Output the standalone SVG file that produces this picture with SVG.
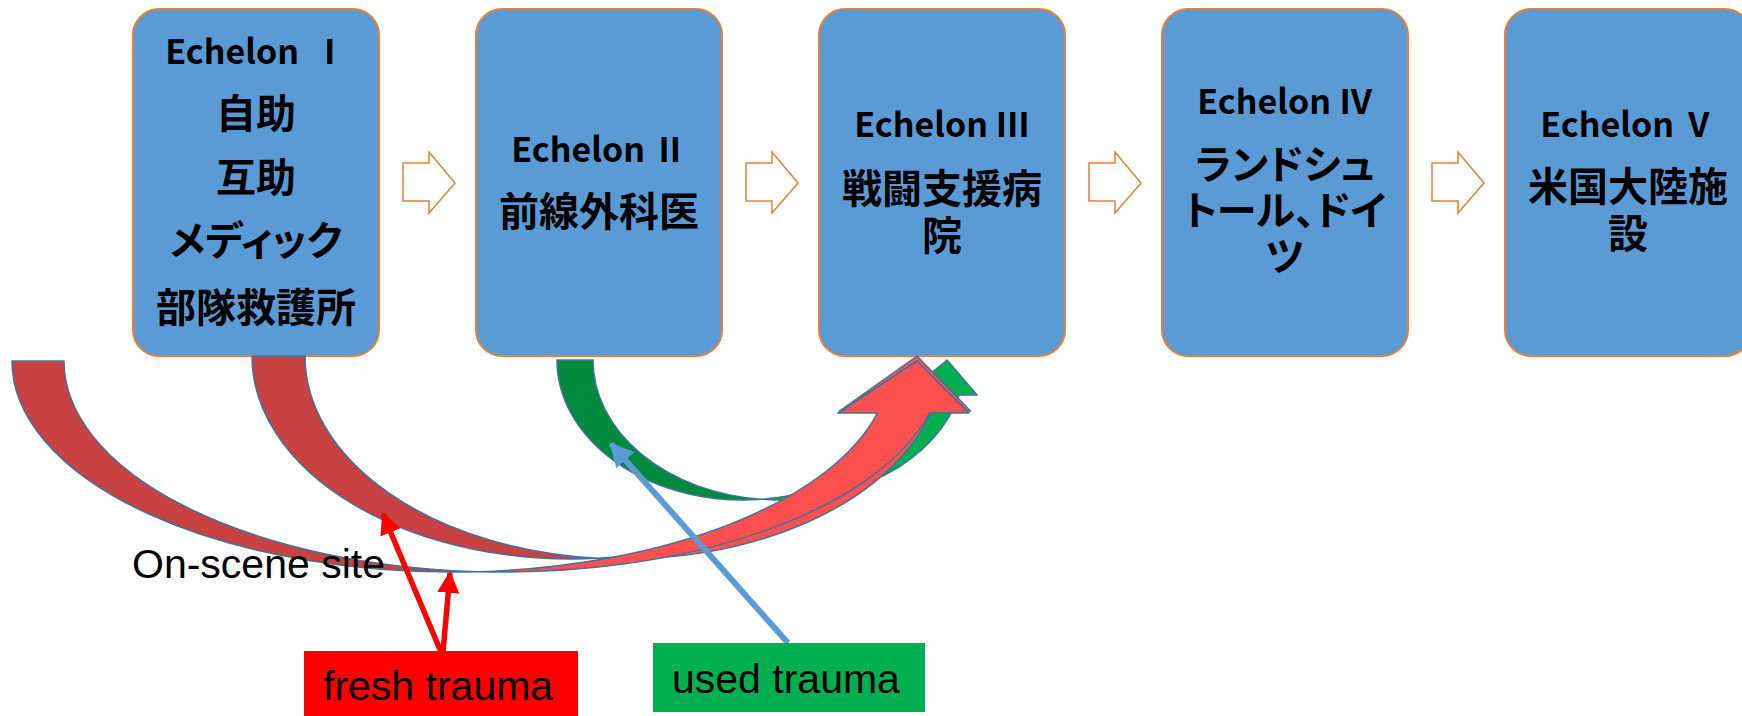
<svg xmlns="http://www.w3.org/2000/svg" width="1742" height="716" viewBox="0 0 1742 716">
  <style>
    .box { fill: #5B9BD5; stroke: #ED7D31; stroke-width: 2; }
    .hd { font-family: "Noto Sans CJK JP", "Noto Sans", sans-serif; font-weight: bold; font-size: 34px; fill: #000; text-anchor: middle; }
    .jp { font-family: "Noto Sans CJK JP", "Noto Sans", sans-serif; font-weight: bold; font-size: 40px; fill: #000; text-anchor: middle; font-feature-settings: "palt" 1; }
    .step { fill: #FFFFFF; stroke: #ED7D31; stroke-width: 1.5; }
    .band { stroke: #41719C; stroke-width: 1.5; stroke-linejoin: round; }
    .red-back { fill: #C84242; }
    .red-front { fill: #FF5050; }
    .grn-back { fill: #008A3E; }
    .grn-front { fill: #00B050; }
    .lbl { font-family: "Liberation Sans", Arial, sans-serif; font-size: 41px; fill: #000; }
  </style>
  <defs>
    <marker id="head-red" viewBox="0 0 10 10" refX="9" refY="5" markerWidth="4" markerHeight="4" orient="auto" markerUnits="strokeWidth">
      <path d="M0,0 L10,5 L0,10 Z" fill="#FF0000"/>
    </marker>
    <marker id="head-blue" viewBox="0 0 10 10" refX="9" refY="5" markerWidth="4" markerHeight="4" orient="auto" markerUnits="strokeWidth">
      <path d="M0,0 L10,5 L0,10 Z" fill="#5B9BD5"/>
    </marker>
  </defs>

  <rect width="1742" height="716" fill="#FFFFFF"/>

  <!-- echelon boxes -->
  <g id="echelon-1">
    <rect class="box" x="133" y="9" width="246" height="347" rx="26"/>
    <text class="hd" x="256" y="64">Echelon <tspan dx="6">Ⅰ</tspan></text>
    <text class="jp" x="256" y="128">自助</text>
    <text class="jp" x="256" y="192">互助</text>
    <text class="jp" x="256" y="255">メディック</text>
    <text class="jp" x="256" y="322">部隊救護所</text>
  </g>
  <g id="echelon-2">
    <rect class="box" x="476" y="9" width="246" height="347" rx="26"/>
    <text class="hd" x="599" y="162">Echelon Ⅱ</text>
    <text class="jp" x="599" y="226">前線外科医</text>
  </g>
  <g id="echelon-3">
    <rect class="box" x="819" y="9" width="246" height="347" rx="26"/>
    <text class="hd" x="942" y="137">Echelon Ⅲ</text>
    <text class="jp" x="942" y="203">戦闘支援病<tspan x="942" dy="47">院</tspan></text>
  </g>
  <g id="echelon-4">
    <rect class="box" x="1162" y="9" width="246" height="347" rx="26"/>
    <text class="hd" x="1285" y="114">Echelon Ⅳ</text>
    <text class="jp" x="1285" y="179">ランドシュ<tspan x="1285" dy="46">トール、ドイ</tspan><tspan x="1285" dy="46">ツ</tspan></text>
  </g>
  <g id="echelon-5">
    <rect class="box" x="1505" y="9" width="246" height="347" rx="26"/>
    <text class="hd" x="1628" y="137">Echelon Ⅴ</text>
    <text class="jp" x="1628" y="201">米国大陸施<tspan x="1628" dy="47">設</tspan></text>
  </g>

  <g id="connectors">
    <!-- hollow step arrows between echelons -->
    <polygon class="step" points="403,163 429,163 429,152 455,183 429,213 429,201 403,201"/>
    <polygon class="step" points="746,163 772,163 772,152 798,183 772,213 772,201 746,201"/>
    <polygon class="step" points="1089,163 1115,163 1115,152 1141,183 1115,213 1115,201 1089,201"/>
    <polygon class="step" points="1432,163 1458,163 1458,152 1484,183 1458,213 1458,201 1432,201"/>

    <!-- curved up arrow from echelon II to echelon III (green) -->
    <g id="curve-green">
      <path class="band grn-back" d="M557,360 A186 140 0 0 0 761,499.3 A186 140 0 0 1 593,360 Z"/>
      <path class="band grn-front" d="M947,360 L977.1,395 L959.1,395 A186 140 0 0 1 761,499.3 A186 140 0 0 0 923.1,395 L905.1,395 Z"/>
    </g>
    <!-- curved up arrow from echelon I to echelon III (red) -->
    <g id="curve-red-b">
      <path class="band red-back" d="M252,356 A319.25 203 0 0 0 597.75,558.3 A319.25 203 0 0 1 305,356 Z"/>
      <path class="band red-front" d="M917,356 L970.55,411 L931.55,411 A319.25 203 0 0 1 597.75,558.3 A319.25 203 0 0 0 878.55,411 L839.55,411 Z"/>
    </g>
    <!-- curved up arrow from on-scene site to echelon III (red) -->
    <g id="curve-red-a">
      <path class="band red-back" d="M12,361 A439.5 211 0 0 0 477.5,571.63 A439.5 211 0 0 1 64,361 Z"/>
      <path class="band red-front" d="M917,361 L968.95,413 L929.45,413 A439.5 211 0 0 1 477.5,571.63 A439.5 211 0 0 0 877.45,413 L837.95,413 Z"/>
    </g>

    <!-- pointer lines from the trauma labels -->
    <line x1="441" y1="652" x2="383" y2="514" stroke="#FF0000" stroke-width="5.5" marker-end="url(#head-red)"/>
    <line x1="443" y1="652" x2="450" y2="573" stroke="#FF0000" stroke-width="5.5" marker-end="url(#head-red)"/>
    <line x1="788" y1="643" x2="611" y2="444" stroke="#5B9BD5" stroke-width="6" marker-end="url(#head-blue)"/>
  </g>

  <g id="on-scene-site">
    <text class="lbl" x="132" y="578">On-scene site</text>
  </g>
  <g id="fresh-trauma">
    <rect x="304" y="651" width="274" height="65" fill="#FF0000"/>
    <text class="lbl" x="323" y="700">fresh trauma</text>
  </g>
  <g id="used-trauma">
    <rect x="653" y="643" width="272" height="69" fill="#00B050"/>
    <text class="lbl" x="672" y="693">used trauma</text>
  </g>
</svg>
